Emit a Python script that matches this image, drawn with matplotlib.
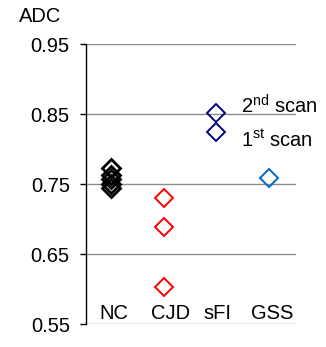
import matplotlib
matplotlib.use("Agg")
import matplotlib.pyplot as plt

plt.rcParams['font.family'] = ['Liberation Sans', 'DejaVu Sans']
plt.rcParams['mathtext.fontset'] = 'custom'
plt.rcParams['mathtext.rm'] = 'Liberation Sans'
plt.rcParams['mathtext.it'] = 'Liberation Sans'

categories = ['NC', 'CJD', 'sFI', 'GSS']
nc_vals = [0.773, 0.763, 0.757, 0.750, 0.745]
cjd_vals = [0.730, 0.688, 0.603]
sfi_vals = [0.852, 0.825]
gss_vals = [0.758]
yticks = [0.55, 0.65, 0.75, 0.85, 0.95]
y_title = 'ADC'
scan_labels = [r'2$^{\mathrm{nd}}$ scan', r'1$^{\mathrm{st}}$ scan']

W, H = 326, 347
fig = plt.figure(figsize=(W / 100, H / 100), dpi=100)
ax = fig.add_axes([85.5 / W, (H - 324) / H, (296 - 85.5) / W, (324 - 44) / H])

series = [nc_vals, cjd_vals, sfi_vals, gss_vals]
colors = ['black', '#FF0000', '#000080', '#0066CC']
edge_w = [2.0, 1.4, 1.4, 1.4]
for i, (vals, c, lw) in enumerate(zip(series, colors, edge_w)):
    ax.plot([i + 1] * len(vals), vals, linestyle='none', marker='D', markersize=9.5,
            markerfacecolor='none', markeredgecolor=c, markeredgewidth=lw, zorder=3)

ax.set_xlim(0.52, 4.51)
ax.set_ylim(0.55, 0.95)
ax.set_yticks(yticks)
ax.set_yticklabels([f'{t:.2f}' for t in yticks])
ax.set_xticks([])
ax.grid(axis='y', color='#8c8c8c', linewidth=1.0)
ax.set_axisbelow(True)
for s in ['top', 'right', 'bottom']:
    ax.spines[s].set_visible(False)
ax.spines['left'].set_color('black')
ax.spines['left'].set_linewidth(1.0)
ax.tick_params(axis='y', direction='out', length=4.5, width=1.0, pad=6.8,
               labelsize=14.5, colors='black')

label_offsets = [0.057, 0.14, 0.03, 0.05]
for i, (cat, off) in enumerate(zip(categories, label_offsets)):
    ax.text(i + 1 + off, 0.5645, cat, ha='center', va='center', fontsize=14.5)

ax.text(3.46, 0.862, scan_labels[0], ha='left', va='center', fontsize=14.5)
ax.text(3.47, 0.813, scan_labels[1], ha='left', va='center', fontsize=14.5)

fig.text(19 / W, 1 - 16 / H, y_title, ha='left', va='center', fontsize=14.5)

fig.savefig('out.png', dpi=100)
